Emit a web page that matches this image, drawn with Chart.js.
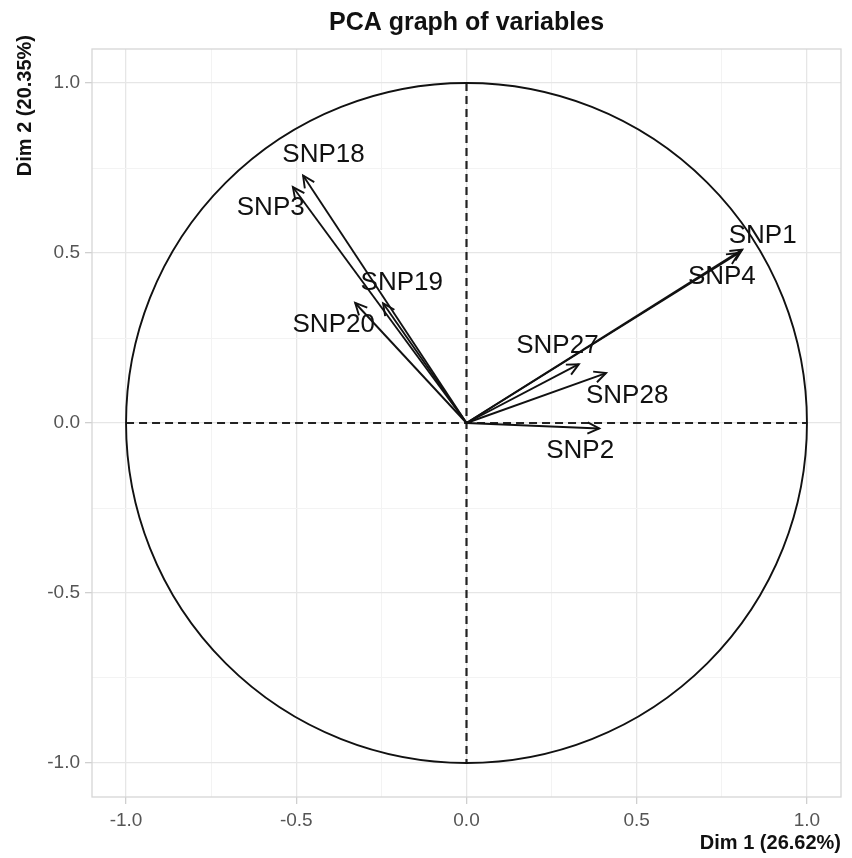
<!DOCTYPE html>
<html>
<head>
<meta charset="utf-8">
<script src="https://cdn.jsdelivr.net/npm/chart.js@4.4.1/dist/chart.umd.min.js"></script>
<style>
  html, body { margin: 0; padding: 0; background: #fff; }
  #wrap { width: 852px; height: 858px; }
</style>
</head>
<body>
<div id="wrap"><canvas id="pca_vars" width="852" height="858"></canvas></div>
<script>
// variable coordinates on Dim 1 / Dim 2
const variables = ["SNP1", "SNP4", "SNP18", "SNP3", "SNP19", "SNP20", "SNP27", "SNP28", "SNP2"];
const dim1 = [0.81, 0.80, -0.48, -0.51, -0.245, -0.327, 0.33, 0.41, 0.39];
const dim2 = [0.51, 0.50, 0.728, 0.694, 0.352, 0.353, 0.173, 0.147, -0.016];

// where each label sits (data units, as placed in the picture)
const labelDim1 = [0.87, 0.75, -0.42, -0.575, -0.19, -0.39, 0.267, 0.472, 0.334];
const labelDim2 = [0.55, 0.43, 0.79, 0.633, 0.413, 0.29, 0.226, 0.079, -0.082];

const gridValues = [-1, -0.75, -0.5, -0.25, 0, 0.25, 0.5, 0.75, 1];

const isMajor = v => Math.abs(v * 2 - Math.round(v * 2)) < 1e-6;

const pca_ctx = document.getElementById("pca_vars").getContext("2d");

let pca_data = {
    datasets: variables.map((name, i) => ({
        label: name,
        data: [{x: 0, y: 0}, {x: dim1[i], y: dim2[i]}],
        showLine: true,
        borderColor: "#111",
        borderWidth: 1.9,
        pointRadius: 0,
        pointHoverRadius: 0,
    }))
};

// circle, dashed axes, panel border, arrow heads, labels, y title
const pcaDecor = {
    id: "pcaDecor",
    beforeDatasetsDraw(chart) {
        const {ctx, chartArea: a, scales: {x, y}} = chart;
        ctx.save();
        ctx.strokeStyle = "#d6d6d6";
        ctx.lineWidth = 1.3;
        ctx.strokeRect(a.left, a.top, a.width, a.height);

        const x0 = x.getPixelForValue(0), y0 = y.getPixelForValue(0);
        const rx = x.getPixelForValue(1) - x0, ry = y0 - y.getPixelForValue(1);

        ctx.strokeStyle = "#222";
        ctx.lineWidth = 2.2;
        ctx.setLineDash([8, 5]);
        ctx.beginPath();
        ctx.moveTo(x.getPixelForValue(-1), y0);
        ctx.lineTo(x.getPixelForValue(1), y0);
        ctx.moveTo(x0, y.getPixelForValue(1));
        ctx.lineTo(x0, y.getPixelForValue(-1));
        ctx.stroke();

        ctx.setLineDash([]);
        ctx.lineWidth = 1.9;
        ctx.strokeStyle = "#111";
        ctx.beginPath();
        ctx.ellipse(x0, y0, rx, ry, 0, 0, Math.PI * 2);
        ctx.stroke();

        // y axis title, ends a little above the panel like the original
        ctx.fillStyle = "#111";
        ctx.font = "bold 20px 'Liberation Sans', Arial, sans-serif";
        ctx.translate(25, a.top - 14);
        ctx.rotate(-Math.PI / 2);
        ctx.textAlign = "right";
        ctx.textBaseline = "middle";
        ctx.fillText("Dim 2 (20.35%)", 0, 0);
        ctx.restore();
    },
    afterDatasetsDraw(chart) {
        const {ctx, scales: {x, y}} = chart;
        ctx.save();
        ctx.strokeStyle = "#111";
        ctx.lineWidth = 1.9;
        const x0 = x.getPixelForValue(0), y0 = y.getPixelForValue(0);
        variables.forEach((name, i) => {
            const px = x.getPixelForValue(dim1[i]), py = y.getPixelForValue(dim2[i]);
            const ang = Math.atan2(py - y0, px - x0);
            const len = 13, spread = Math.PI / 7;
            ctx.beginPath();
            ctx.moveTo(px - len * Math.cos(ang - spread), py - len * Math.sin(ang - spread));
            ctx.lineTo(px, py);
            ctx.lineTo(px - len * Math.cos(ang + spread), py - len * Math.sin(ang + spread));
            ctx.stroke();
        });
        ctx.fillStyle = "#111";
        ctx.font = "26px 'Liberation Sans', Arial, sans-serif";
        ctx.textAlign = "center";
        ctx.textBaseline = "middle";
        variables.forEach((name, i) => {
            ctx.fillText(name, x.getPixelForValue(labelDim1[i]), y.getPixelForValue(labelDim2[i]));
        });
        ctx.restore();
    }
};

const axisCommon = {
    type: "linear",
    min: -1.1,
    max: 1.1,
    afterBuildTicks: axis => { axis.ticks = gridValues.map(v => ({value: v})); },
    border: {display: false},
    grid: {
        color: c => isMajor(c.tick.value) ? "#e6e6e6" : "#f3f3f3",
        lineWidth: c => isMajor(c.tick.value) ? 1.3 : 1,
        tickLength: 7,
        tickColor: c => isMajor(c.tick.value) ? "#cfcfcf" : "rgba(0,0,0,0)",
    },
    ticks: {
        color: "#555",
        font: {family: "'Liberation Sans', Arial, sans-serif", size: 19},
        autoSkip: false,
        maxRotation: 0,
        callback: v => isMajor(v) ? v.toFixed(1) : "",
    },
};

const pca_config = {
    type: "scatter",
    data: pca_data,
    options: {
        responsive: false,
        animation: false,
        layout: {padding: {left: 0, right: 11, top: 0, bottom: 0}},
        plugins: {
            legend: {display: false},
            tooltip: {enabled: false},
            title: {
                display: true,
                fullSize: false,
                text: "PCA graph of variables",
                color: "#111",
                font: {family: "'Liberation Sans', Arial, sans-serif", size: 25, weight: "bold"},
                padding: {top: 8, bottom: 11},
            }
        },
        scales: {
            x: {
                ...axisCommon,
                afterFit: s => { s.height = 61; },
                ticks: {...axisCommon.ticks, padding: 5},
                title: {
                    display: true,
                    align: "end",
                    text: "Dim 1 (26.62%)",
                    color: "#111",
                    font: {family: "'Liberation Sans', Arial, sans-serif", size: 20, weight: "bold"},
                    padding: {top: 0, bottom: 3},
                }
            },
            y: {
                ...axisCommon,
                afterFit: s => { s.width = 92; },
                ticks: {...axisCommon.ticks, padding: 5},
            }
        }
    },
    plugins: [pcaDecor],
};

const pca_chart = new Chart(pca_ctx, pca_config);
</script>
</body>
</html>
